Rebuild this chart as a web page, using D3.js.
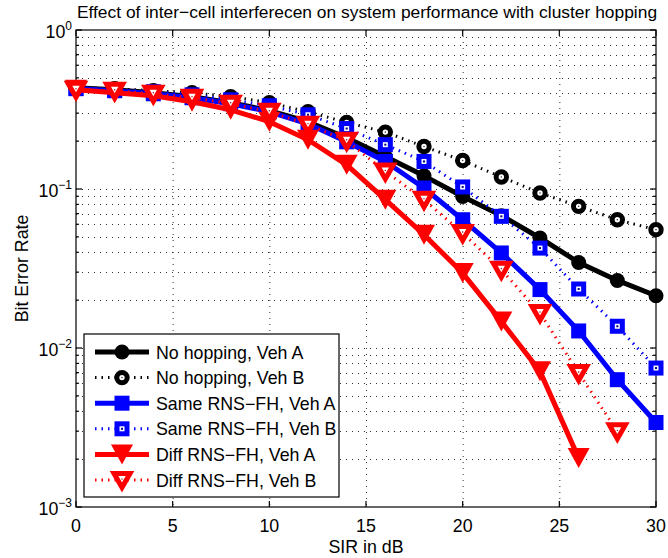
<!DOCTYPE html>
<html>
<head>
<meta charset="utf-8">
<script src="https://cdn.jsdelivr.net/npm/d3@7"></script>
<style>
  html, body { margin: 0; padding: 0; background: #fff; }
  svg { display: block; font-family: "Liberation Sans", Arial, Helvetica, sans-serif; }
</style>
</head>
<body>
<svg id="chart" width="668" height="558"></svg>
<script>
// ---------------- data ----------------
const sirA = [0, 2, 4, 6, 8, 10, 12, 14, 16, 18, 20, 22, 24, 26, 28, 30];
const sirRedA = [0, 2, 4, 6, 8, 10, 12, 14, 16, 18, 20, 22, 24, 26];
const sirRedB = [0, 2, 4, 6, 8, 10, 12, 14, 16, 18, 20, 22, 24, 26, 28];

const noHopVehA   = [0.434, 0.421, 0.403, 0.381, 0.349, 0.311, 0.265, 0.210, 0.160, 0.121, 0.0898, 0.068, 0.0492, 0.0345, 0.0266, 0.0213];
const noHopVehB   = [0.434, 0.427, 0.415, 0.403, 0.381, 0.349, 0.306, 0.262, 0.228, 0.185, 0.151, 0.119, 0.0944, 0.0778, 0.0641, 0.0555];
const sameRnsVehA = [0.428, 0.415, 0.397, 0.375, 0.344, 0.306, 0.257, 0.198, 0.149, 0.1014, 0.0641, 0.0396, 0.0233, 0.0128, 0.00632, 0.0034];
const sameRnsVehB = [0.428, 0.421, 0.409, 0.391, 0.364, 0.334, 0.293, 0.240, 0.190, 0.149, 0.103, 0.0673, 0.0425, 0.0235, 0.0137, 0.00748];
const diffRnsVehA = [0.421, 0.403, 0.386, 0.354, 0.315, 0.265, 0.204, 0.142, 0.0857, 0.0516, 0.0296, 0.0147, 0.00713, 0.00203];
const diffRnsVehB = [0.421, 0.415, 0.397, 0.375, 0.344, 0.306, 0.254, 0.201, 0.129, 0.0857, 0.0529, 0.0311, 0.0166, 0.00696, 0.00299];

const seriesNames = ["No hopping, Veh A", "No hopping, Veh B", "Same RNS\u2212FH, Veh A",
                     "Same RNS\u2212FH, Veh B", "Diff RNS\u2212FH, Veh A", "Diff RNS\u2212FH, Veh B"];
const xTicks = [0, 5, 10, 15, 20, 25, 30];
const yDecades = [-3, -2, -1, 0];
const titleText = "Effect of inter\u2212cell interferecen on system performance with cluster hopping";
const xLabelText = "SIR in dB";
const yLabelText = "Bit Error Rate";

// ---------------- layout ----------------
const L = 76, R = 656, T = 30, B = 507;
const FONT = 17.8;
const svg = d3.select("#chart");
const x = d3.scaleLinear().domain([0, 30]).range([L, R]);
const y = d3.scaleLog().domain([1e-3, 1]).range([B, T]);

const series = [
  { name: seriesNames[0], xs: sirA,    ys: noHopVehA,   color: "#000000", dotted: false, marker: "circle",   filled: true },
  { name: seriesNames[1], xs: sirA,    ys: noHopVehB,   color: "#000000", dotted: true,  marker: "circle",   filled: false },
  { name: seriesNames[2], xs: sirA,    ys: sameRnsVehA, color: "#0000ff", dotted: false, marker: "square",   filled: true },
  { name: seriesNames[3], xs: sirA,    ys: sameRnsVehB, color: "#0000ff", dotted: true,  marker: "square",   filled: false },
  { name: seriesNames[4], xs: sirRedA, ys: diffRnsVehA, color: "#ff0000", dotted: false, marker: "triangle", filled: true },
  { name: seriesNames[5], xs: sirRedB, ys: diffRnsVehB, color: "#ff0000", dotted: true,  marker: "triangle", filled: false }
];

// ---------------- grid ----------------
const grid = svg.append("g").attr("stroke", "#333").attr("stroke-width", 1).attr("stroke-dasharray", "1,5");
xTicks.filter(v => v > 0 && v < 30).forEach(v => {
  grid.append("line").attr("x1", x(v) + 0.5).attr("x2", x(v) + 0.5).attr("y1", T).attr("y2", B);
});
const yGridVals = [];
yDecades.slice(0, 3).forEach(d => {
  for (let m = 1; m <= 9; m++) {
    const v = m * Math.pow(10, d);
    if (v > 1e-3 && v < 1) yGridVals.push(v);
  }
});
yGridVals.forEach(v => {
  grid.append("line").attr("x1", L).attr("x2", R).attr("y1", Math.round(y(v)) + 0.5).attr("y2", Math.round(y(v)) + 0.5);
});

// ---------------- axes box & ticks ----------------
const axisG = svg.append("g").attr("stroke", "#000").attr("stroke-width", 1.2);
axisG.append("rect").attr("x", L).attr("y", T).attr("width", R - L).attr("height", B - T).attr("fill", "none");
xTicks.forEach(v => {
  axisG.append("line").attr("x1", x(v)).attr("x2", x(v)).attr("y1", B).attr("y2", B - 6);
  axisG.append("line").attr("x1", x(v)).attr("x2", x(v)).attr("y1", T).attr("y2", T + 6);
});
yDecades.forEach(d => {
  const yy = y(Math.pow(10, d));
  axisG.append("line").attr("x1", L).attr("x2", L + 6).attr("y1", yy).attr("y2", yy);
  axisG.append("line").attr("x1", R).attr("x2", R - 6).attr("y1", yy).attr("y2", yy);
});
yGridVals.filter(v => Math.abs(Math.log10(v) - Math.round(Math.log10(v))) > 1e-9).forEach(v => {
  const yy = y(v);
  axisG.append("line").attr("x1", L).attr("x2", L + 3).attr("y1", yy).attr("y2", yy);
  axisG.append("line").attr("x1", R).attr("x2", R - 3).attr("y1", yy).attr("y2", yy);
});

// tick labels
const lab = svg.append("g").attr("fill", "#000").attr("font-size", FONT);
xTicks.forEach(v => {
  lab.append("text").attr("x", x(v)).attr("y", B + 25).attr("text-anchor", "middle").text(v);
});
yDecades.forEach(d => {
  const yy = y(Math.pow(10, d));
  const t = lab.append("text").attr("x", 72).attr("y", yy + 8).attr("text-anchor", "end");
  t.append("tspan").text("10");
  t.append("tspan").attr("dy", -8).attr("font-size", 12).text(d === 0 ? "0" : "\u2212" + (-d));
});

// labels
svg.append("text").attr("x", (L + R) / 2 + 1).attr("y", 17.5).attr("text-anchor", "middle")
  .attr("font-size", 17.4).text(titleText);
svg.append("text").attr("x", (L + R) / 2).attr("y", 553).attr("text-anchor", "middle")
  .attr("font-size", FONT).text(xLabelText);
svg.append("text").attr("transform", `translate(28,${(T + B) / 2}) rotate(-90)`).attr("text-anchor", "middle")
  .attr("font-size", FONT).text(yLabelText);

// ---------------- markers ----------------
function drawMarker(g, cx, cy, s) {
  if (s.marker === "circle") {
    if (s.filled) {
      g.append("circle").attr("cx", cx).attr("cy", cy).attr("r", 7.5).attr("fill", s.color);
    } else {
      g.append("circle").attr("cx", cx).attr("cy", cy).attr("r", 5.2).attr("fill", "#fff")
        .attr("stroke", s.color).attr("stroke-width", 5);
      g.append("circle").attr("cx", cx).attr("cy", cy).attr("r", 0.8).attr("fill", "#444");
    }
  } else if (s.marker === "square") {
    if (s.filled) {
      g.append("rect").attr("x", cx - 7.5).attr("y", cy - 7.5).attr("width", 15).attr("height", 15).attr("fill", s.color);
    } else {
      g.append("rect").attr("x", cx - 5).attr("y", cy - 5).attr("width", 10).attr("height", 10).attr("fill", "#fff")
        .attr("stroke", s.color).attr("stroke-width", 5);
      g.append("rect").attr("x", cx - 1).attr("y", cy - 1).attr("width", 2).attr("height", 2).attr("fill", "#000080");
    }
  } else {
    if (s.filled) {
      const w = 11, h = 10;
      g.append("path").attr("d", `M${cx - w},${cy - h}L${cx + w},${cy - h}L${cx},${cy + h}Z`).attr("fill", s.color);
    } else {
      const w = 8, h = 7.5;
      g.append("path").attr("d", `M${cx - w},${cy - h + 1}L${cx + w},${cy - h + 1}L${cx},${cy + h}Z`)
        .attr("fill", "#fff").attr("stroke", s.color).attr("stroke-width", 5).attr("stroke-linejoin", "miter");
      g.append("circle").attr("cx", cx).attr("cy", cy - 1).attr("r", 0.7).attr("fill", "#800");
    }
  }
}

// ---------------- series ----------------
const plot = svg.append("g");
const line = d3.line().x(d => x(d[0])).y(d => y(d[1]));
series.forEach(s => {
  const g = plot.append("g");
  const pts = s.xs.map((v, i) => [v, s.ys[i]]);
  g.append("path").datum(pts).attr("d", line).attr("fill", "none").attr("stroke", s.color)
    .attr("stroke-width", s.dotted ? 3 : 5)
    .attr("stroke-dasharray", s.dotted ? "1.5,5" : null)
    .attr("stroke-linejoin", "round");
  pts.forEach(p => drawMarker(g, x(p[0]), y(p[1]), s));
});

// ---------------- legend ----------------
const lg = svg.append("g");
lg.append("rect").attr("x", 84).attr("y", 334).attr("width", 255).attr("height", 163)
  .attr("fill", "#fff").attr("stroke", "#000").attr("stroke-width", 1.2);
series.forEach((s, i) => {
  const ry = 352 + i * 25.6;
  lg.append("line").attr("x1", 95).attr("x2", 149).attr("y1", ry).attr("y2", ry)
    .attr("stroke", s.color).attr("stroke-width", s.dotted ? 3 : 5)
    .attr("stroke-dasharray", s.dotted ? "1.5,5" : null);
  drawMarker(lg, 122, ry, s);
  lg.append("text").attr("x", 156).attr("y", ry + 6.5).attr("font-size", FONT).text(s.name);
});
</script>
</body>
</html>
